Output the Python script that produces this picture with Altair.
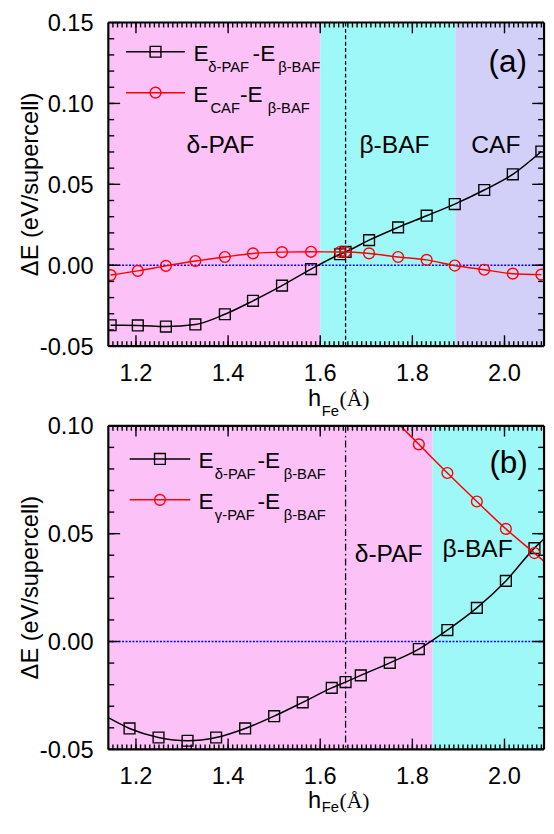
import altair as alt
import pandas as pd
import numpy as np

# ---------------- data ----------------
a_h = [1.145, 1.204, 1.265, 1.329, 1.393, 1.454, 1.517, 1.580, 1.643, 1.655,
       1.706, 1.769, 1.831, 1.892, 1.956, 2.018, 2.080]
a_delta_paf = [-0.0371, -0.0372, -0.0379, -0.0366, -0.0303, -0.0220, -0.0126, -0.0024,
               0.0068, 0.0082, 0.0155, 0.0234, 0.0306, 0.0378, 0.0465, 0.0562, 0.0703]
a_caf = [-0.0061, -0.0035, -0.0004, 0.0026, 0.0051, 0.0073, 0.0081, 0.0083,
         0.0082, 0.0082, 0.0073, 0.0051, 0.0033, -0.0002, -0.0028, -0.0052, -0.0058]

b_h = [1.186, 1.249, 1.312, 1.374, 1.437, 1.500, 1.562, 1.625, 1.655, 1.688,
       1.751, 1.814, 1.876, 1.940, 2.003, 2.065]
b_delta_paf = [-0.0403, -0.0445, -0.0460, -0.0445, -0.0403, -0.0346, -0.0282, -0.0215,
               -0.0188, -0.0157, -0.0099, -0.0035, 0.0053, 0.0156, 0.0281, 0.0433]
b_gamma_h = [1.814, 1.876, 1.940, 2.003, 2.065]
b_gamma_paf = [0.0914, 0.0781, 0.0649, 0.0522, 0.0410]
b_delta_edge_h = [1.140, 2.0858]
b_delta_edge = [-0.0353, 0.0475]
b_gamma_edge_h = [1.774, 2.0858]
b_gamma_edge = [0.1000, 0.0372]

XDOM = [1.14, 2.0858]
a_region_start = [XDOM[0], 1.600, 1.893]
a_region_end = [1.600, 1.893, XDOM[1]]
b_region_start = [XDOM[0], 1.844]
b_region_end = [1.844, XDOM[1]]
h_crit = [1.655]

x_ticks = [1.2, 1.4, 1.6, 1.8, 2.0]
x_tick_labels = ["1.2", "1.4", "1.6", "1.8", "2.0"]
a_y_ticks = [-0.05, 0.00, 0.05, 0.10, 0.15]
a_y_tick_labels = ["-0.05", "0.00", "0.05", "0.10", "0.15"]
b_y_ticks = [-0.05, 0.00, 0.05, 0.10]
b_y_tick_labels = ["-0.05", "0.00", "0.05", "0.10"]
x_minor = [round(float(v), 3) for v in np.arange(1.15, 2.0801, 0.01)]
a_y_minor = [round(float(v), 3) for v in np.arange(-0.04, 0.1401, 0.01)]
b_y_minor = [round(float(v), 3) for v in np.arange(-0.04, 0.0901, 0.01)]

a_phase_labels = ["δ-PAF", "β-BAF", "CAF"]
b_phase_labels = ["δ-PAF", "β-BAF"]
a_legend = [[("E", 0), ("δ-PAF", 1), ("-E", 0), ("β-BAF", 1)],
            [("E", 0), ("CAF", 1), ("-E", 0), ("β-BAF", 1)]]
b_legend = [[("E", 0), ("δ-PAF", 1), ("-E", 0), ("β-BAF", 1)],
            [("E", 0), ("γ-PAF", 1), ("-E", 0), ("β-BAF", 1)]]
y_title = "ΔE (eV/supercell)"

# ---------------- styling ----------------
W, H = 443, 329
FONT = "Liberation Sans"
PINK, CYAN, LAV = "#FCC2F8", "#9FF8F8", "#D2D0F8"
MAIN, SUB = 23, 15


def txt(s, x, y, size, align="left", baseline="alphabetic", font=FONT):
    return alt.Chart(pd.DataFrame({"t": [s]})).mark_text(
        font=font, fontSize=size, align=align, baseline=baseline, color="black"
    ).encode(text="t:N", x=alt.value(x), y=alt.value(y))


def panel(ydom, yticks, ylabels, ymin, rstart, rend, rcol, curves, legend, leg_x, leg_y,
          leg_parts_x, phase, phase_pos, tag, tag_pos, vdash, title_dy, sub_dy):
    xs = alt.Scale(domain=XDOM, nice=False, zero=False)
    ys = alt.Scale(domain=ydom, nice=False, zero=False)
    X = lambda f: alt.X(f, scale=xs, axis=None)
    Y = lambda f: alt.Y(f, scale=ys, axis=None)
    one = pd.DataFrame({"k": [0]})

    layers = []
    reg = pd.DataFrame({"x0": rstart, "x1": rend, "c": rcol})
    layers.append(alt.Chart(reg).mark_rect().encode(
        x=X("x0:Q"), x2="x1:Q", y=alt.value(0), y2=alt.value(H),
        color=alt.Color("c:N", scale=None)))
    layers.append(alt.Chart(pd.DataFrame({"y": [0.0]})).mark_rule(
        color="#0000FF", strokeWidth=1.6, strokeDash=[2, 1.5]).encode(
        y=Y("y:Q"), x=alt.value(0), x2=alt.value(W)))
    layers.append(alt.Chart(pd.DataFrame({"x": h_crit})).mark_rule(
        color="black", strokeWidth=1.3, strokeDash=vdash).encode(
        x=X("x:Q"), y=alt.value(0), y2=alt.value(H)))

    for c in curves:
        ldf = pd.DataFrame({"h": c["px"] + c.get("ex", []), "e": c["py"] + c.get("ey", [])})
        ldf = ldf.sort_values("h")
        layers.append(alt.Chart(ldf).mark_line(
            clip=True, interpolate="monotone", color=c["color"], strokeWidth=1.5).encode(
            x=X("h:Q"), y=Y("e:Q"), order="h:Q"))
        pdf = pd.DataFrame({"h": c["px"], "e": c["py"]})
        layers.append(alt.Chart(pdf).mark_point(
            clip=True, shape=c["shape"], filled=False, size=c["size"],
            color=c["color"], strokeWidth=1.4, opacity=1).encode(
            x=X("h:Q"), y=Y("e:Q")))

    # tick labels and y title (placed through the scales)
    xl = pd.DataFrame({"v": x_ticks, "lab": x_tick_labels})
    layers.append(alt.Chart(xl).mark_text(
        font=FONT, fontSize=24, align="center", baseline="alphabetic", color="black").encode(
        x=X("v:Q"), y=alt.value(H + 35.5), text="lab:N"))
    yl = pd.DataFrame({"v": yticks, "lab": ylabels})
    layers.append(alt.Chart(yl).mark_text(
        font=FONT, fontSize=24, align="right", baseline="alphabetic", dy=8.6,
        color="black").encode(
        y=Y("v:Q"), x=alt.value(-15), text="lab:N"))
    layers.append(alt.Chart(pd.DataFrame({"t": [y_title]})).mark_text(
        font=FONT, fontSize=24, align="center", baseline="middle", angle=270,
        color="black").encode(text="t:N", x=alt.value(-79), y=alt.value(H / 2)))

    # legend
    for i, (row, c, ly) in enumerate(zip(legend, curves, leg_y)):
        layers.append(alt.Chart(one).mark_rule(color=c["color"], strokeWidth=1.5).encode(
            x=alt.value(leg_x[0]), x2=alt.value(leg_x[1]), y=alt.value(ly)))
        layers.append(alt.Chart(one).mark_point(
            shape=c["shape"], filled=False, size=c["size"], color=c["color"],
            strokeWidth=1.4, opacity=1).encode(
            x=alt.value((leg_x[0] + leg_x[1]) / 2), y=alt.value(ly)))
        for (s, is_sub), px in zip(row, leg_parts_x[i]):
            if is_sub:
                layers.append(txt(s, px, ly + 20.5, SUB))
            else:
                layers.append(txt(s, px, ly + 9, MAIN))

    for s, (px, py) in zip(phase, phase_pos):
        layers.append(txt(s, px, py, 25, align="center"))
    layers.append(txt(tag, tag_pos[0], tag_pos[1], 32, align="center", baseline="middle"))

    layers.append(txt("h", 203, H + title_dy, 24))
    layers.append(txt("Fe", 217, H + title_dy + sub_dy, 15))
    layers.append(txt("(Å)", 235, H + title_dy, 22, font="Liberation Serif"))

    # inward ticks on all four sides
    tk = dict(color="black", strokeWidth=1.4)
    for vals, ln in ((x_minor, 5), (x_ticks, 11)):
        df = pd.DataFrame({"tx": vals})
        layers.append(alt.Chart(df).mark_rule(**tk).encode(
            x=X("tx:Q"), y=alt.value(H - ln), y2=alt.value(H)))
        layers.append(alt.Chart(df).mark_rule(**tk).encode(
            x=X("tx:Q"), y=alt.value(0), y2=alt.value(ln)))
    for vals, ln in ((ymin, 6), (yticks, 12)):
        df = pd.DataFrame({"ty": vals})
        layers.append(alt.Chart(df).mark_rule(**tk).encode(
            y=Y("ty:Q"), x=alt.value(0), x2=alt.value(ln)))
        layers.append(alt.Chart(df).mark_rule(**tk).encode(
            y=Y("ty:Q"), x=alt.value(W - ln), x2=alt.value(W)))

    # frame
    fr = dict(color="black", strokeWidth=2.2)
    layers.append(alt.Chart(one).mark_rule(**fr).encode(
        x=alt.value(0), x2=alt.value(W), y=alt.value(0)))
    layers.append(alt.Chart(one).mark_rule(**fr).encode(
        x=alt.value(0), x2=alt.value(W), y=alt.value(H)))
    layers.append(alt.Chart(one).mark_rule(**fr).encode(
        x=alt.value(0), y=alt.value(0), y2=alt.value(H)))
    layers.append(alt.Chart(one).mark_rule(**fr).encode(
        x=alt.value(W), y=alt.value(0), y2=alt.value(H)))

    return alt.layer(*layers).properties(width=W, height=H)


curves_a = [
    dict(px=a_h, py=a_delta_paf, color="black", shape="square", size=121),
    dict(px=a_h, py=a_caf, color="#FF0000", shape="circle", size=120),
]
curves_b = [
    dict(px=b_h, py=b_delta_paf, ex=b_delta_edge_h, ey=b_delta_edge,
         color="black", shape="square", size=121),
    dict(px=b_gamma_h, py=b_gamma_paf, ex=b_gamma_edge_h, ey=b_gamma_edge,
         color="#FF0000", shape="circle", size=120),
]

pa = panel([-0.05, 0.15], a_y_ticks, a_y_tick_labels, a_y_minor, a_region_start, a_region_end,
           [PINK, CYAN, LAV], curves_a, a_legend, (18, 78), [29.7, 71.3],
           [[86.7, 101.7, 146.7, 172.7], [86.4, 103.8, 133.8, 162.0]],
           a_phase_labels, [(114, 133), (291, 133), (394, 133)],
           "(a)", (406, 40), [4, 2.5], 60.5, 10.5)
pb = panel([-0.05, 0.10], b_y_ticks, b_y_tick_labels, b_y_minor, b_region_start, b_region_end,
           [PINK, CYAN], curves_b, b_legend, (21.7, 83.3), [33.7, 75.3],
           [[91.7, 108.3, 151.7, 178.3], [91.7, 108.3, 151.7, 178.3]],
           b_phase_labels, [(285, 138.5), (375.5, 133.5)],
           "(b)", (407, 38), [7, 3, 2, 3], 60, 4)

chart = alt.vconcat(pa, pb, spacing=81, bounds="flush").configure_view(
    stroke=None
).properties(padding={"left": 11, "top": -3, "right": 0, "bottom": -3}, background="white")

chart.save("out.html", embed_options={"renderer": "svg", "actions": False})
